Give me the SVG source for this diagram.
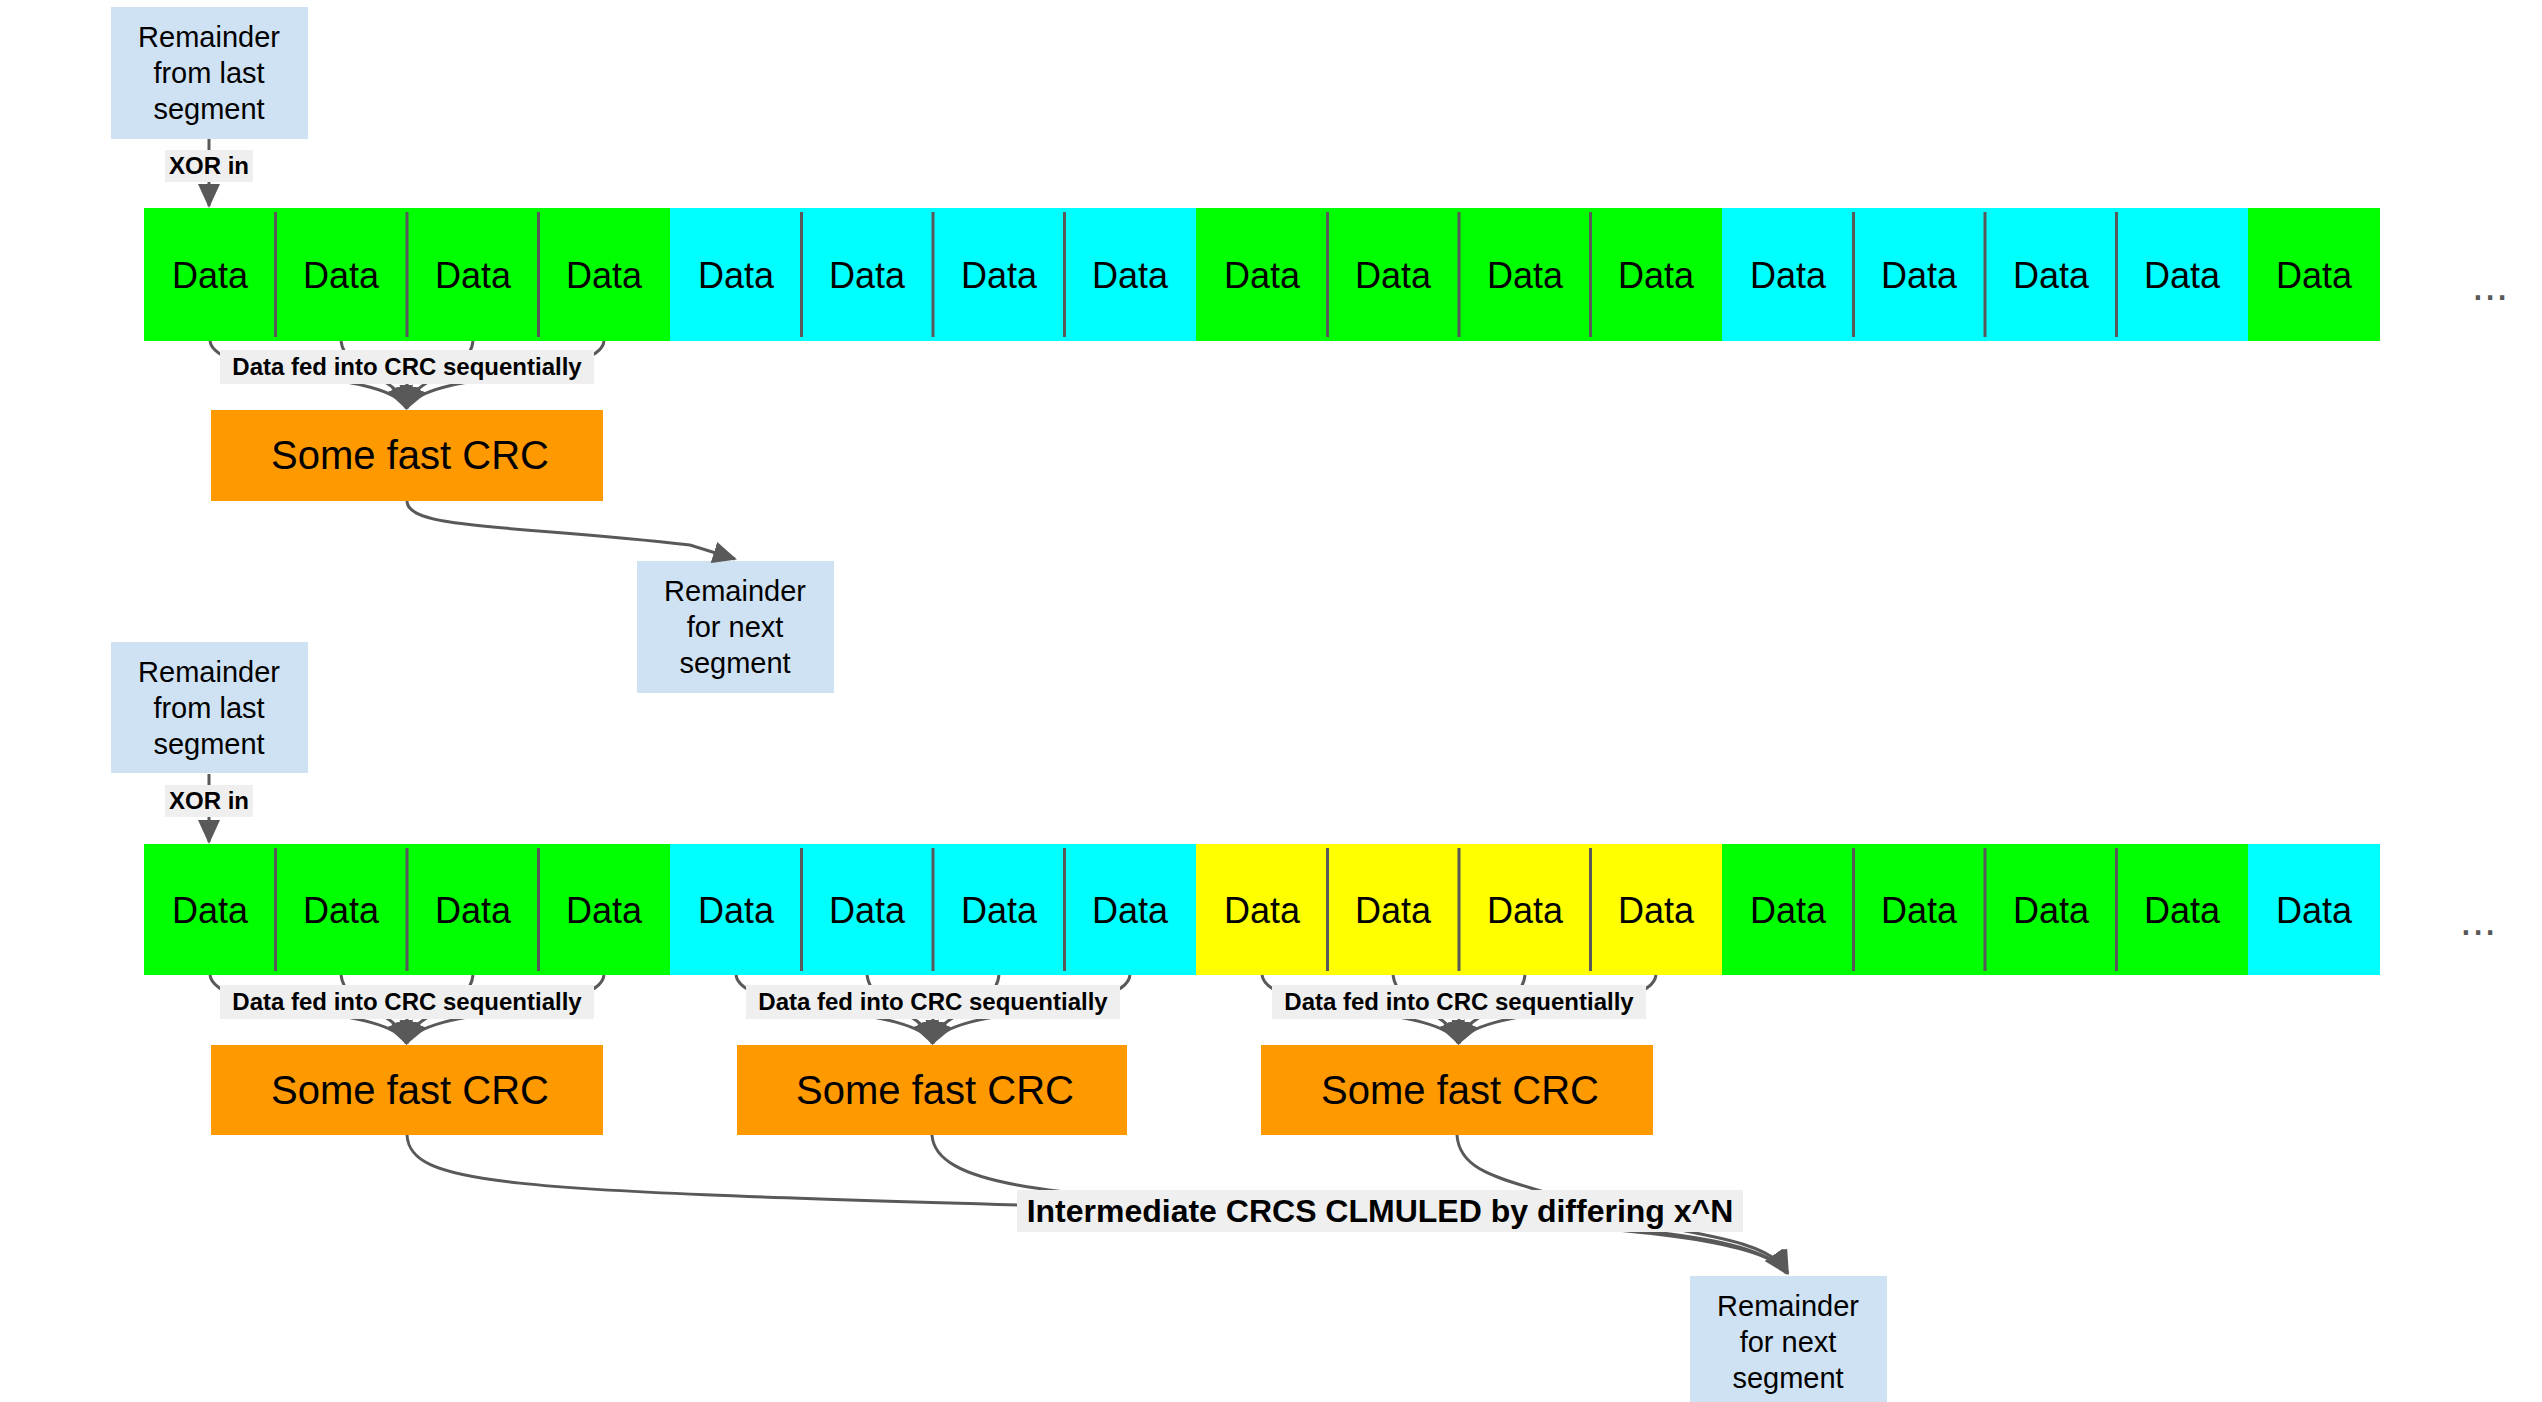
<svg xmlns="http://www.w3.org/2000/svg" width="2542" height="1402" viewBox="0 0 2542 1402">
<style>
.rem{fill:#cfe2f3}
.rt{font-family:"Liberation Sans",Arial,sans-serif;font-size:29px;text-anchor:middle;fill:#000}
.dt{font-family:"Liberation Sans",Arial,sans-serif;font-size:36px;text-anchor:middle;fill:#000}
.ct{font-family:"Liberation Sans",Arial,sans-serif;font-size:40px;text-anchor:middle;fill:#000}
.lt{font-family:"Liberation Sans",Arial,sans-serif;font-size:24px;font-weight:bold;text-anchor:middle;fill:#000}
.bt{font-family:"Liberation Sans",Arial,sans-serif;font-size:32px;font-weight:bold;text-anchor:middle;fill:#000}
.lb{fill:#efefef}
.g{fill:#00ff00}.c{fill:#00ffff}.y{fill:#ffff00}.o{fill:#ff9900}
.div{stroke:#595959;stroke-width:3}
.e{fill:none;stroke:#595959;stroke-width:3}
.dots{font-family:"Liberation Sans",Arial,sans-serif;font-size:44px;fill:#595959;text-anchor:middle}
</style>
<defs>
<marker id="a" markerUnits="userSpaceOnUse" markerWidth="24" markerHeight="22" refX="22" refY="11" orient="auto">
<path d="M0,0 L24,11 L0,22 z" fill="#595959"/>
</marker>
</defs>

<g id="rem1"><rect class="rem" x="111" y="7" width="197" height="132"/><text class="rt" x="209" y="47">Remainder</text><text class="rt" x="209" y="83">from last</text><text class="rt" x="209" y="119">segment</text></g>

<g id="row1">
<rect class="g" x="144" y="208" width="526" height="133"/>
<rect class="c" x="670" y="208" width="526" height="133"/>
<rect class="g" x="1196" y="208" width="526" height="133"/>
<rect class="c" x="1722" y="208" width="526" height="133"/>
<rect class="g" x="2248" y="208" width="132" height="133"/>
<g class="div">
<line x1="275.5" y1="212" x2="275.5" y2="337"/><line x1="407" y1="212" x2="407" y2="337"/><line x1="538.5" y1="212" x2="538.5" y2="337"/>
<line x1="801.5" y1="212" x2="801.5" y2="337"/><line x1="933" y1="212" x2="933" y2="337"/><line x1="1064.5" y1="212" x2="1064.5" y2="337"/>
<line x1="1327.5" y1="212" x2="1327.5" y2="337"/><line x1="1459" y1="212" x2="1459" y2="337"/><line x1="1590.5" y1="212" x2="1590.5" y2="337"/>
<line x1="1853.5" y1="212" x2="1853.5" y2="337"/><line x1="1985" y1="212" x2="1985" y2="337"/><line x1="2116.5" y1="212" x2="2116.5" y2="337"/>
</g>
<g class="dt">
<text x="210" y="288">Data</text><text x="341" y="288">Data</text><text x="473" y="288">Data</text><text x="604" y="288">Data</text>
<text x="736" y="288">Data</text><text x="867" y="288">Data</text><text x="999" y="288">Data</text><text x="1130" y="288">Data</text>
<text x="1262" y="288">Data</text><text x="1393" y="288">Data</text><text x="1525" y="288">Data</text><text x="1656" y="288">Data</text>
<text x="1788" y="288">Data</text><text x="1919" y="288">Data</text><text x="2051" y="288">Data</text><text x="2182" y="288">Data</text>
<text x="2314" y="288">Data</text>
</g>
<text class="dots" x="2490" y="300">...</text>
</g>

<g id="crc1"><rect class="o" x="211" y="410" width="392" height="91"/><text class="ct" x="410" y="469">Some fast CRC</text></g>

<g id="remnext1"><rect class="rem" x="637" y="561" width="197" height="132"/><text class="rt" x="735" y="601">Remainder</text><text class="rt" x="735" y="637">for next</text><text class="rt" x="735" y="673">segment</text></g>

<g id="rem2"><rect class="rem" x="111" y="642" width="197" height="131"/><text class="rt" x="209" y="682">Remainder</text><text class="rt" x="209" y="718">from last</text><text class="rt" x="209" y="754">segment</text></g>

<g id="row2">
<rect class="g" x="144" y="844" width="526" height="131"/>
<rect class="c" x="670" y="844" width="526" height="131"/>
<rect class="y" x="1196" y="844" width="526" height="131"/>
<rect class="g" x="1722" y="844" width="526" height="131"/>
<rect class="c" x="2248" y="844" width="132" height="131"/>
<g class="div">
<line x1="275.5" y1="848" x2="275.5" y2="971"/><line x1="407" y1="848" x2="407" y2="971"/><line x1="538.5" y1="848" x2="538.5" y2="971"/>
<line x1="801.5" y1="848" x2="801.5" y2="971"/><line x1="933" y1="848" x2="933" y2="971"/><line x1="1064.5" y1="848" x2="1064.5" y2="971"/>
<line x1="1327.5" y1="848" x2="1327.5" y2="971"/><line x1="1459" y1="848" x2="1459" y2="971"/><line x1="1590.5" y1="848" x2="1590.5" y2="971"/>
<line x1="1853.5" y1="848" x2="1853.5" y2="971"/><line x1="1985" y1="848" x2="1985" y2="971"/><line x1="2116.5" y1="848" x2="2116.5" y2="971"/>
</g>
<g class="dt">
<text x="210" y="923">Data</text><text x="341" y="923">Data</text><text x="473" y="923">Data</text><text x="604" y="923">Data</text>
<text x="736" y="923">Data</text><text x="867" y="923">Data</text><text x="999" y="923">Data</text><text x="1130" y="923">Data</text>
<text x="1262" y="923">Data</text><text x="1393" y="923">Data</text><text x="1525" y="923">Data</text><text x="1656" y="923">Data</text>
<text x="1788" y="923">Data</text><text x="1919" y="923">Data</text><text x="2051" y="923">Data</text><text x="2182" y="923">Data</text>
<text x="2314" y="923">Data</text>
</g>
<text class="dots" x="2478" y="935">...</text>
</g>

<g id="crc2a"><rect class="o" x="211" y="1045" width="392" height="90"/><text class="ct" x="410" y="1104">Some fast CRC</text></g>
<g id="crc2b"><rect class="o" x="737" y="1045" width="390" height="90"/><text class="ct" x="935" y="1104">Some fast CRC</text></g>
<g id="crc2c"><rect class="o" x="1261" y="1045" width="392" height="90"/><text class="ct" x="1460" y="1104">Some fast CRC</text></g>

<g id="remnext2"><rect class="rem" x="1690" y="1276" width="197" height="132"/><text class="rt" x="1788" y="1316">Remainder</text><text class="rt" x="1788" y="1352">for next</text><text class="rt" x="1788" y="1388">segment</text></g>

<g id="connectors">
<path class="e" d="M209,139 L209,206" marker-end="url(#a)"/>
<rect class="lb" x="165" y="150" width="88" height="32"/><text class="lt" x="209" y="174">XOR in</text>
<path class="e" d="M209,774 L209,842" marker-end="url(#a)"/>
<rect class="lb" x="165" y="785" width="88" height="32"/><text class="lt" x="209" y="809">XOR in</text>

<path class="e" d="M210,341 C215,380 390,370 406,408" marker-end="url(#a)"/>
<path class="e" d="M341,341 C345,375 400,375 406,408" marker-end="url(#a)"/>
<path class="e" d="M473,341 C470,375 412,375 407,408" marker-end="url(#a)"/>
<path class="e" d="M604,341 C600,380 425,370 407,408" marker-end="url(#a)"/>
<rect class="lb" x="220" y="350" width="374" height="34"/><text class="lt" x="407" y="375">Data fed into CRC sequentially</text>

<path class="e" d="M407,501 C407,530 520,525 690,545 L735,559" marker-end="url(#a)"/>

<path class="e" d="M210,975 C215,1015 390,1005 406,1043" marker-end="url(#a)"/>
<path class="e" d="M341,975 C345,1010 400,1010 406,1043" marker-end="url(#a)"/>
<path class="e" d="M473,975 C470,1010 412,1010 407,1043" marker-end="url(#a)"/>
<path class="e" d="M604,975 C600,1015 425,1005 407,1043" marker-end="url(#a)"/>
<rect class="lb" x="220" y="985" width="374" height="34"/><text class="lt" x="407" y="1010">Data fed into CRC sequentially</text>

<path class="e" d="M736,975 C741,1015 916,1005 932,1043" marker-end="url(#a)"/>
<path class="e" d="M867,975 C871,1010 926,1010 932,1043" marker-end="url(#a)"/>
<path class="e" d="M999,975 C996,1010 938,1010 933,1043" marker-end="url(#a)"/>
<path class="e" d="M1130,975 C1126,1015 951,1005 933,1043" marker-end="url(#a)"/>
<rect class="lb" x="746" y="985" width="374" height="34"/><text class="lt" x="933" y="1010">Data fed into CRC sequentially</text>

<path class="e" d="M1262,975 C1267,1015 1442,1005 1458,1043" marker-end="url(#a)"/>
<path class="e" d="M1393,975 C1397,1010 1452,1010 1458,1043" marker-end="url(#a)"/>
<path class="e" d="M1525,975 C1522,1010 1464,1010 1459,1043" marker-end="url(#a)"/>
<path class="e" d="M1656,975 C1652,1015 1477,1005 1459,1043" marker-end="url(#a)"/>
<rect class="lb" x="1272" y="985" width="374" height="34"/><text class="lt" x="1459" y="1010">Data fed into CRC sequentially</text>

<path class="e" d="M407,1135 C410,1185 500,1190 1020,1205 C1500,1220 1750,1220 1786,1273" marker-end="url(#a)"/>
<path class="e" d="M932,1135 C935,1185 1050,1195 1250,1205 C1550,1225 1760,1230 1787,1273" marker-end="url(#a)"/>
<path class="e" d="M1457,1135 C1460,1185 1540,1180 1600,1215 C1700,1235 1770,1240 1788,1273" marker-end="url(#a)"/>
<rect class="lb" x="1017" y="1190" width="726" height="42"/><text class="bt" x="1380" y="1222">Intermediate CRCS CLMULED by differing x^N</text>
</g>
</svg>
